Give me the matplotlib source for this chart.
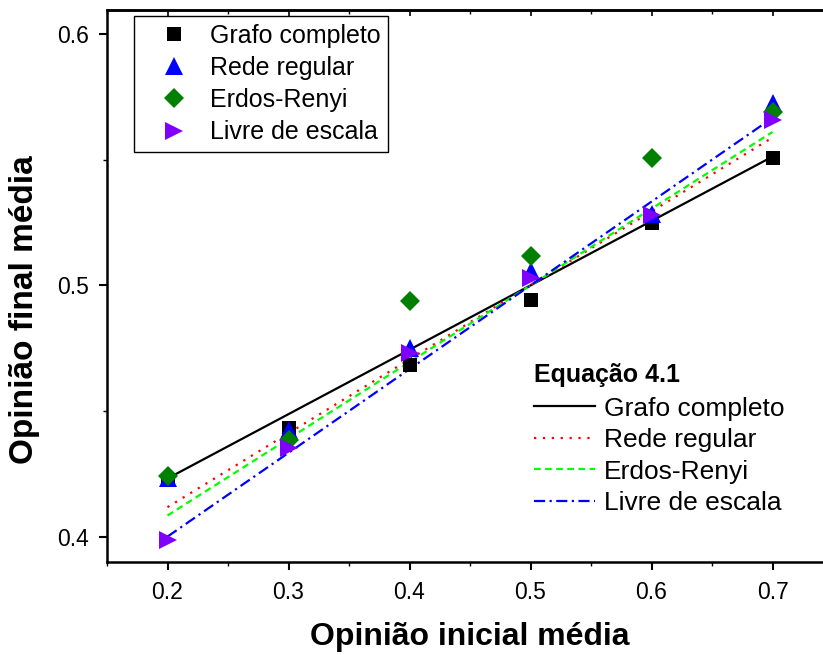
import matplotlib
matplotlib.use('Agg')
import matplotlib.pyplot as plt
import numpy as np
from matplotlib.ticker import MultipleLocator, FixedLocator, NullFormatter

# ---------------- data ----------------
x_values = [0.2, 0.3, 0.4, 0.5, 0.6, 0.7]
grafo_completo = [0.4227, 0.4433, 0.4684, 0.4940, 0.5250, 0.5505]
rede_regular = [0.4235, 0.4425, 0.4752, 0.5056, 0.5285, 0.5724]
erdos_renyi = [0.4243, 0.4386, 0.4936, 0.5115, 0.5505, 0.5688]
livre_escala = [0.3988, 0.4354, 0.4732, 0.5030, 0.5280, 0.5656]
series_names = ["Grafo completo", "Rede regular", "Erdos-Renyi", "Livre de escala"]
# Equação 4.1 fits: y = 0.5 + k (x - 0.5)
fit_slopes = [0.256, 0.294, 0.305, 0.333]
fit_center = 0.5
fit_range = [0.2, 0.7]
x_ticks = [0.2, 0.3, 0.4, 0.5, 0.6, 0.7]
y_ticks = [0.4, 0.5, 0.6]
legend_title = "Equação 4.1"
x_label = "Opinião inicial média"
y_label = "Opinião final média"

# ---------------- style ----------------
plt.rcParams['font.family'] = ['Liberation Sans', 'DejaVu Sans']

W, H = 823, 655
fig = plt.figure(figsize=(W / 100, H / 100), dpi=100)
ax_left, ax_right, ax_top, ax_bottom = 107, 833, 10, 562
ax = fig.add_axes([ax_left / W, (H - ax_bottom) / H,
                   (ax_right - ax_left) / W, (ax_bottom - ax_top) / H])

series = [grafo_completo, rede_regular, erdos_renyi, livre_escala]
marker_styles = [
    dict(marker='s', color='black', ms=10),
    dict(marker='^', color='#0000FF', ms=12.5),
    dict(marker='D', color='#008000', ms=10.5),
    dict(marker='>', color='#8000FF', ms=12.5),
]
line_styles = [
    dict(color='black', ls='-'),
    dict(color='#FF0000', ls=(0, (1, 3))),
    dict(color='#00FF00', ls=(0, (3, 2))),
    dict(color='#0000FF', ls=(0, (5, 2, 1, 2))),
]

# fit lines
xf = np.array(fit_range)
line_handles = []
for k, st in zip(fit_slopes, line_styles):
    yf = fit_center + k * (xf - fit_center)
    h, = ax.plot(xf, yf, lw=1.6, zorder=2, **st)
    line_handles.append(h)

# markers
marker_handles = []
for ys, st, name in zip(series, marker_styles, series_names):
    h, = ax.plot(x_values, ys, ls='none', mew=0, zorder=3, label=name, **st)
    marker_handles.append(h)

ax.set_xlim(0.15, 0.75)
ax.set_ylim(0.3900, 0.6095)

ax.xaxis.set_major_locator(FixedLocator(x_ticks))
ax.yaxis.set_major_locator(FixedLocator(y_ticks))
ax.xaxis.set_minor_locator(MultipleLocator(0.05))
ax.yaxis.set_minor_locator(MultipleLocator(0.05))
ax.set_xticklabels([f"{v:.1f}" for v in x_ticks])
ax.set_yticklabels([f"{v:.1f}" for v in y_ticks])

ax.tick_params(axis='both', which='major', direction='out', length=6, width=1.5,
               labelsize=16.5)
ax.tick_params(axis='x', which='major', pad=8)
ax.tick_params(axis='y', which='major', pad=7)
ax.tick_params(axis='both', which='minor', direction='out', length=3, width=1)
for sp in ax.spines.values():
    sp.set_linewidth(1.8)

# mirrored ticks on top, pointing inward
top = ax.secondary_xaxis('top')
top.xaxis.set_major_locator(FixedLocator(x_ticks))
top.xaxis.set_minor_locator(MultipleLocator(0.05))
top.xaxis.set_major_formatter(NullFormatter())
top.tick_params(which='major', direction='in', length=4, width=1.2)
top.tick_params(which='minor', direction='in', length=3, width=1)
top.spines['top'].set_linewidth(1.8)

ax.set_xlabel(x_label, fontsize=23, fontweight='bold', labelpad=13)
ax.set_ylabel(y_label, fontsize=24, fontweight='bold')
ax.yaxis.set_label_coords(-(ax_left - 40) / (ax_right - ax_left),
                          (ax_bottom - 310) / (ax_bottom - ax_top))

leg1 = ax.legend(handles=marker_handles, labels=series_names, loc='upper left',
                 bbox_to_anchor=((134 - ax_left) / (ax_right - ax_left),
                                 (ax_bottom - 16) / (ax_bottom - ax_top)),
                 borderaxespad=0, fontsize=18, frameon=True, fancybox=False,
                 edgecolor='black', framealpha=1, labelspacing=0.33,
                 handlelength=2.6, handletextpad=0.15, borderpad=0.3,
                 numpoints=1)
leg1.get_frame().set_linewidth(1.0)
ax.add_artist(leg1)

leg2 = ax.legend(handles=line_handles, labels=series_names, loc='upper left',
                 bbox_to_anchor=((534 - ax_left) / (ax_right - ax_left),
                                 (ax_bottom - 363) / (ax_bottom - ax_top)),
                 borderaxespad=0, borderpad=0, fontsize=19, frameon=False,
                 labelspacing=0.28, handlelength=2.3, handletextpad=0.35,
                 title=legend_title, alignment='left',
                 title_fontproperties={'weight': 'bold', 'size': 18})
leg2._legend_box.sep = 7

fig.savefig('out.png', dpi=100)
